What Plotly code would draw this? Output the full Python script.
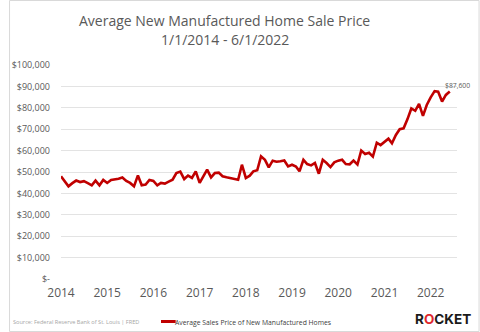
import plotly.graph_objects as go
import pandas as pd

# ---- data ----
dates = pd.date_range("2014-01-01", "2022-06-01", freq="MS")
prices_k = [
    48.0, 45.2, 43.3, 44.8, 46.0, 45.3, 45.7, 44.8, 43.8, 46.0, 43.8, 46.3,   # 2014
    44.9, 46.3, 46.4, 46.8, 47.4, 45.8, 44.9, 43.3, 48.4, 43.8, 44.1, 46.3,   # 2015
    45.8, 43.8, 44.9, 44.6, 45.5, 46.4, 49.5, 50.2, 46.7, 48.3, 47.2, 50.3,   # 2016
    44.9, 48.0, 51.1, 47.5, 49.5, 49.7, 48.0, 47.5, 47.2, 46.7, 46.4, 53.4,   # 2017
    47.2, 48.3, 50.3, 50.8, 57.3, 55.7, 52.2, 55.3, 54.8, 55.0, 55.4, 52.6,   # 2018
    53.4, 52.6, 50.3, 55.7, 53.7, 53.1, 54.2, 49.2, 55.7, 54.2, 52.3, 54.5,   # 2019
    55.3, 55.7, 53.7, 53.6, 55.3, 53.5, 60.0, 58.4, 59.0, 57.2, 63.7, 62.6,   # 2020
    64.0, 65.6, 63.4, 67.3, 70.0, 70.4, 74.6, 79.7, 78.6, 81.8, 76.2, 81.3,   # 2021
    84.9, 87.8, 87.5, 82.9, 86.0, 87.6,                                       # 2022
]
prices = [v * 1000 for v in prices_k]
year_ticks = list(range(2014, 2023))
y_ticks = list(range(0, 100001, 10000))
y_ticktext = ["$-"] + [f"${v:,}" for v in y_ticks[1:]]

title_line1 = "Average New Manufactured Home Sale Price"
title_line2 = "1/1/2014 - 6/1/2022"
series_name = "Average Sales Price of New Manufactured Homes"
source_text = "Source: Federal Reserve Bank of St. Louis | FRED"
last_label = "$87,600"

# ---- geometry (pixels) ----
W, H = 480, 332
L, R, T, B = 53, 23, 65, 53
PW, PH = W - L - R, H - T - B

def px(x):
    return (x - L) / PW

def py(y):
    return (H - B - y) / PH

GRAY = "#595959"
RED = "#c00000"
FONT = "Open Sans"

fig = go.Figure()
fig.add_trace(go.Scatter(
    x=dates, y=prices, mode="lines", name=series_name,
    line=dict(color=RED, width=2.6), showlegend=False,
))

fig.update_layout(
    width=W, height=H,
    margin=dict(l=L, r=R, t=T, b=B, pad=0),
    paper_bgcolor="white", plot_bgcolor="white",
    font=dict(family=FONT, color=GRAY),
    xaxis=dict(
        range=["2014-01-01", "2022-07-28"],
        tickvals=[f"{y}-01-01" for y in year_ticks],
        ticktext=[str(y) for y in year_ticks],
        showgrid=False, zeroline=False, showline=False,
        ticks="", ticklabelstandoff=5,
        tickfont=dict(size=12, color=GRAY),
    ),
    yaxis=dict(
        range=[0, 100000],
        tickvals=y_ticks, ticktext=y_ticktext,
        showgrid=True, gridcolor="#e3e3e3", gridwidth=1,
        zeroline=False, showline=False, ticks="",
        ticklabelstandoff=10,
        tickfont=dict(size=9, color=GRAY),
    ),
)

shapes = [
    # outer border
    dict(type="rect", xref="paper", yref="paper",
         x0=px(0.5), x1=px(W - 0.5), y0=py(H - 0.5), y1=py(0.5),
         line=dict(color="#d9d9d9", width=1), fillcolor="rgba(0,0,0,0)", layer="below"),
    # legend swatch
    dict(type="line", xref="paper", yref="paper",
         x0=px(155), x1=px(170), y0=py(321.5), y1=py(321.5),
         line=dict(color=RED, width=3)),
]

annotations = [
    dict(text=title_line1, xref="paper", yref="paper", x=px(220), y=py(21),
         showarrow=False, xanchor="center", yanchor="middle",
         font=dict(size=14, color=GRAY, family=FONT)),
    dict(text=title_line2, xref="paper", yref="paper", x=px(220), y=py(39.5),
         showarrow=False, xanchor="center", yanchor="middle",
         font=dict(size=14, color=GRAY, family=FONT)),
    dict(text=source_text, xref="paper", yref="paper", x=px(2), y=py(322),
         showarrow=False, xanchor="left", yanchor="middle",
         font=dict(size=5.6, color="#a6a6a6", family=FONT)),
    dict(text=series_name, xref="paper", yref="paper", x=px(167), y=py(322),
         showarrow=False, xanchor="left", yanchor="middle",
         font=dict(size=6.8, color="#404040", family=FONT)),
    dict(text="<b>R<span style='color:#e0282e'>O</span>CKET</b>", xref="paper", yref="paper",
         x=px(473), y=py(319), showarrow=False, xanchor="right", yanchor="middle",
         font=dict(size=13.5, color="#1a1a1a", family="Inter")),
    dict(text=last_label, x=dates[-1], y=prices[-1], xref="x", yref="y",
         showarrow=True, arrowhead=0, arrowwidth=0.6, arrowcolor="#bfbfbf",
         ax=8, ay=-6, xanchor="center", yanchor="middle",
         font=dict(size=6.8, color=GRAY, family=FONT)),
]

fig.update_layout(shapes=shapes, annotations=annotations)
fig.write_html("out.html")
